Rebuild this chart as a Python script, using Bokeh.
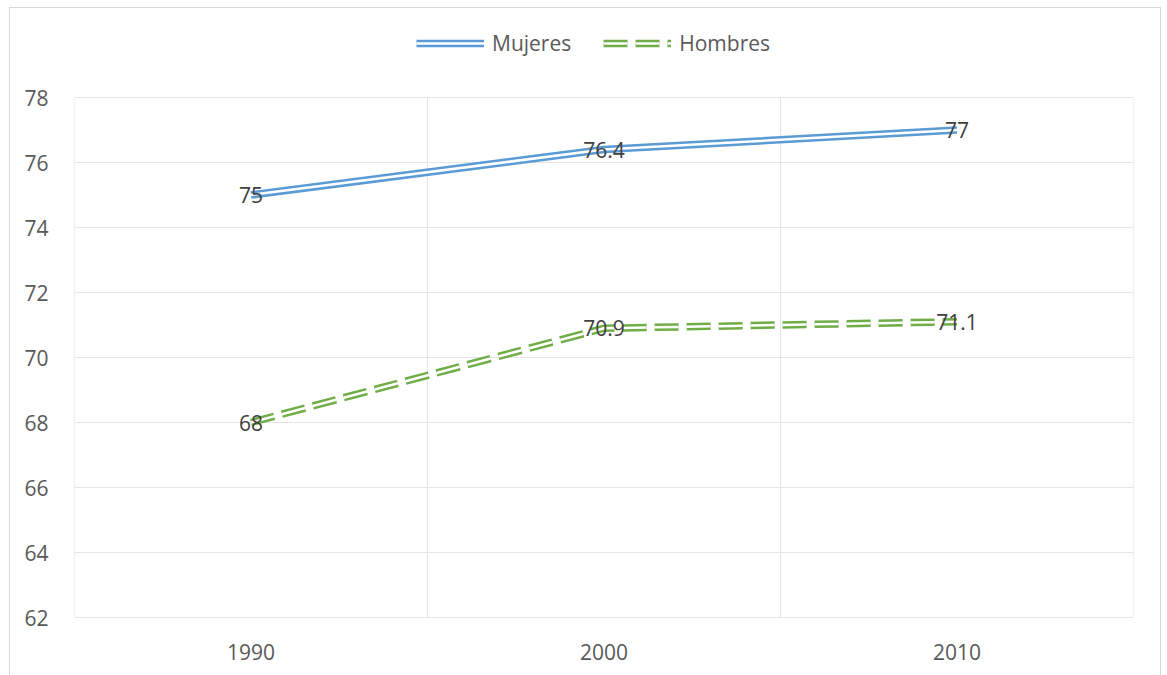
from bokeh.plotting import figure
from bokeh.models import Range1d, FixedTicker, Legend, LegendItem, ColumnDataSource
from bokeh.core.properties import value
from bokeh.embed import file_html
from bokeh.resources import INLINE

years = ["1990", "2000", "2010"]
mujeres = [75, 76.4, 77]
hombres = [68, 70.9, 71.1]
y_ticks = [62, 64, 66, 68, 70, 72, 74, 76, 78]

FONT = "Open Sans"
BLUE = "#5B9BD5"
GREEN = "#70AD47"
GRID = "#E6E6E6"

xs = list(range(len(years)))

# layout: plot area 520px tall for the y span; extra headroom in the frame holds the legend
PLOT_PX = 520
HEAD_PX = 80
FOOT_PX = 2
y_lo, y_hi = y_ticks[0], y_ticks[-1]
unit = (y_hi - y_lo) / PLOT_PX
y_top = y_hi + HEAD_PX * unit
y_bot = y_lo - FOOT_PX * unit

p = figure(width=1152, height=669, output_backend="svg", toolbar_location=None,
           x_range=Range1d(-0.5, len(years) - 0.5), y_range=Range1d(y_bot, y_top),
           min_border_left=64, min_border_right=29, min_border_top=9, min_border_bottom=58)
p.styles = {"border": "1px solid #D9D9D9", "margin-left": "9px", "margin-top": "7px"}
p.outline_line_color = None
p.background_fill_color = "white"
p.border_fill_color = "white"

# axes
p.yaxis.ticker = FixedTicker(ticks=y_ticks)
p.xaxis.ticker = FixedTicker(ticks=xs)
p.xaxis.major_label_overrides = {i: y for i, y in enumerate(years)}
for ax in (p.xaxis[0], p.yaxis[0]):
    ax.axis_line_color = None
    ax.major_tick_line_color = None
    ax.minor_tick_line_color = None
    ax.major_label_text_font = FONT
    ax.major_label_text_font_size = "21px"
    ax.major_label_text_color = "#595959"
p.yaxis.major_label_standoff = 20
p.xaxis.major_label_standoff = 18

# grid: horizontal lines at y ticks, vertical lines at category boundaries (only over the plot span)
p.ygrid.ticker = FixedTicker(ticks=y_ticks)
p.ygrid.grid_line_color = GRID
p.ygrid.grid_line_width = 1.2
p.xgrid.visible = False
bounds = [i - 0.5 for i in range(len(years) + 1)]
p.segment(x0=bounds, x1=bounds, y0=[y_lo] * len(bounds), y1=[y_hi] * len(bounds),
          line_color=GRID, line_width=1.2)

# double lines
src = ColumnDataSource(dict(x=xs, m=mujeres, h=hombres,
                            mt=[f"{v:g}" for v in mujeres],
                            ht=[f"{v:g}" for v in hombres]))

m_outer = p.line("x", "m", source=src, line_color=BLUE, line_width=7.5, line_cap="butt")
m_inner = p.line("x", "m", source=src, line_color="white", line_width=2.5, line_cap="butt")
h_outer = p.line("x", "h", source=src, line_color=GREEN, line_width=7.5, line_dash="24 8", line_cap="butt")
h_inner = p.line("x", "h", source=src, line_color="white", line_width=2.5, line_dash="24 8", line_cap="butt")

# data labels
p.text("x", "m", text="mt", source=src, text_align="center", text_baseline="middle",
       text_font=value(FONT), text_font_size="21px", text_color="#404040")
p.text("x", "h", text="ht", source=src, text_align="center", text_baseline="middle",
       text_font=value(FONT), text_font_size="21px", text_color="#404040")

legend = Legend(items=[LegendItem(label="Mujeres", renderers=[m_outer, m_inner]),
                       LegendItem(label="Hombres", renderers=[h_outer, h_inner])],
                orientation="horizontal", location=(342, 562))
legend.border_line_color = None
legend.background_fill_alpha = 0
legend.label_text_font = FONT
legend.label_text_font_size = "21px"
legend.label_text_color = "#595959"
legend.glyph_width = 68
legend.glyph_height = 22
legend.label_standoff = 8
legend.spacing = 32
legend.padding = 0
legend.margin = 0
p.add_layout(legend, "center")

open("out.html", "w").write(file_html(p, INLINE))
